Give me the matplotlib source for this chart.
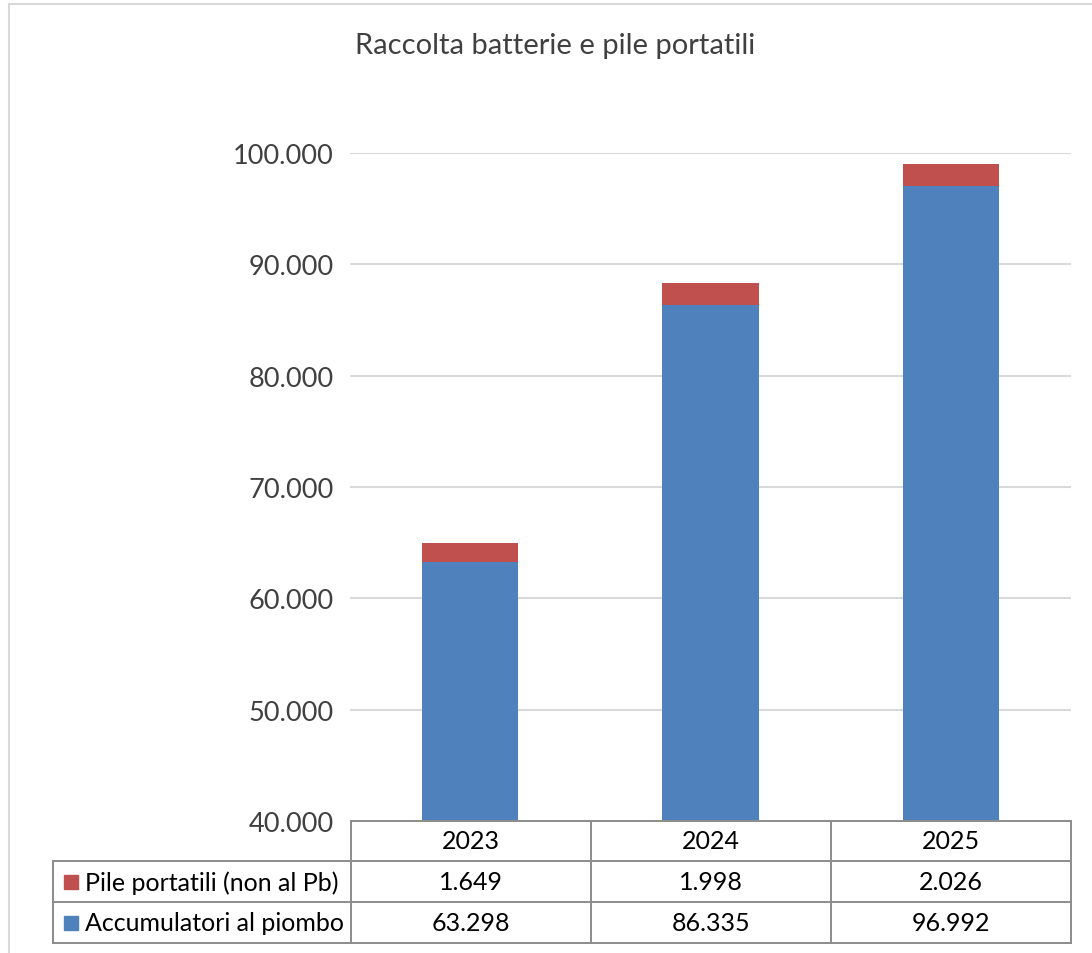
import matplotlib.pyplot as plt
from matplotlib.lines import Line2D
from matplotlib.patches import Rectangle

anni = ["2023", "2024", "2025"]
accumulatori = [63298, 86335, 96992]
pile = [1649, 1998, 2026]
serie = ["Pile portatili (non al Pb)", "Accumulatori al piombo"]
yticks = [40000, 50000, 60000, 70000, 80000, 90000, 100000]

blu = "#4F81BD"
rosso = "#C0504D"
grigio_tab = "#8C8C8C"

W, H = 1092, 954
plt.rcParams['font.family'] = ['Lato', 'DejaVu Sans']


def fx(px):
    return px / W


def fy(py):
    return 1 - py / H


def fmt(v):
    return f"{v:,}".replace(",", ".")


fig = plt.figure(figsize=(W / 100, H / 100), dpi=100)
ax = fig.add_axes([fx(350), fy(822), fx(1071) - fx(350), fy(154) - fy(822)])

x = range(len(anni))
ax.bar(x, accumulatori, width=0.4, color=blu, zorder=2)
ax.bar(x, pile, width=0.4, bottom=accumulatori, color=rosso, zorder=2)

ax.set_xlim(-0.5, 2.5)
ax.set_ylim(40000, 100000)
ax.set_yticks(yticks)
ax.set_yticklabels([fmt(v) for v in yticks], fontsize=19.5, color="#404040")
ax.set_xticks([])
ax.tick_params(axis="y", length=0, pad=11.5)
for s in ax.spines.values():
    s.set_visible(False)
for v in yticks[1:]:
    ax.axhline(v, color="#D9D9D9", lw=1.5, zorder=1)

fig.text(fx(555), fy(46), "Raccolta batterie e pile portatili", fontsize=21,
         color="#404040", ha="center", va="center")

# tabella dati
col_x = [351, 591, 831, 1071]
lw = 1.4

def linea(x0, y0, x1, y1):
    fig.add_artist(Line2D([fx(x0), fx(x1)], [fy(y0), fy(y1)], color=grigio_tab, lw=lw))

linea(351, 822, 1071, 822)
linea(53, 862, 1071, 862)
linea(53, 903, 1071, 903)
linea(53, 944, 1071, 944)
for cx in col_x:
    linea(cx, 822, cx, 944)
linea(53, 862, 53, 944)

for i, a in enumerate(anni):
    cx = (col_x[i] + col_x[i + 1]) / 2
    fig.text(fx(cx), fy(842), a, fontsize=18, ha="center", va="center", color="black")
    fig.text(fx(cx), fy(883), fmt(pile[i]), fontsize=18, ha="center", va="center", color="black")
    fig.text(fx(cx), fy(924), fmt(accumulatori[i]), fontsize=18, ha="center", va="center", color="black")

for nome, col, yc in [(serie[0], rosso, 883), (serie[1], blu, 924)]:
    fig.add_artist(Rectangle((fx(64), fy(yc + 7)), fx(14), fy(0) - fy(14), color=col))
    fig.text(fx(85), fy(yc), nome, fontsize=18, ha="left", va="center", color="black")

# bordo del grafico
fig.add_artist(Line2D([fx(9), fx(9)], [fy(5), 0], color="#D9D9D9", lw=1.5))
fig.add_artist(Line2D([fx(9), 1], [fy(5), fy(5)], color="#D9D9D9", lw=1.5))

fig.savefig("out.png", dpi=100)
